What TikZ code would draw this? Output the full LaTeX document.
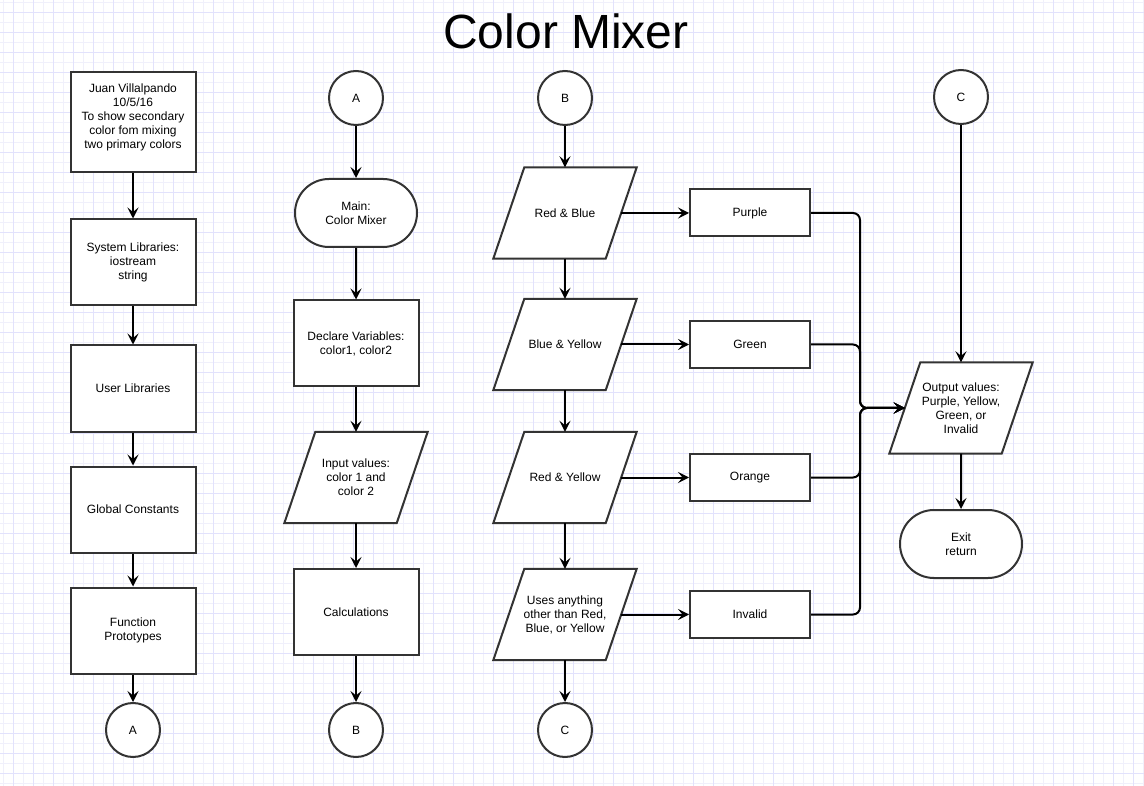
\documentclass[tikz,border=0pt]{standalone}
\usepackage{fontspec}
\setmainfont{Liberation Sans}
\usetikzlibrary{shapes.geometric,shapes.misc,arrows.meta}
\definecolor{gridc}{RGB}{240,240,251}
\definecolor{gridd}{RGB}{226,226,252}
\definecolor{edgec}{RGB}{51,51,51}
\pgfdeclarelayer{gridlayer}
\pgfdeclarelayer{bg}
\pgfsetlayers{gridlayer,bg,main}
\newcommand{\paradraw}[1]{%
  \draw[shapeline] ([xshift=31pt]#1.north west) -- (#1.north east) -- ([xshift=-31pt]#1.south east) -- (#1.south west) -- cycle;}
\begin{document}
\begin{tikzpicture}[x=1pt,y=-1pt,
 shapeline/.style={draw=edgec, line width=2pt, fill=white, line join=miter},
 base/.style={draw=edgec, line width=2pt, fill=white, font=\fontsize{12}{14}\selectfont, align=center, text=black, inner sep=2pt},
 proc/.style={base, rectangle, minimum width=125, minimum height=86},
 sbox/.style={base, rectangle, minimum width=120, minimum height=47},
 io/.style={rectangle, draw=none, fill=none, font=\fontsize{12}{14}\selectfont, align=center, text=black, inner sep=0pt, minimum width=143, minimum height=91},
 term/.style={base, rounded rectangle, minimum width=126, minimum height=68},
 conn/.style={base, circle, minimum size=54},
 arr/.style={line width=2pt, draw=black, -{Stealth[length=11pt,width=11pt,inset=4.5pt]}},
]
\useasboundingbox (0,0) rectangle (1144,786);
\begin{pgfonlayer}{gridlayer}
\fill[white] (0,0) rectangle (1144,786);
\begin{scope}[shift={(3,3)}]
\draw[gridc, line width=1pt] (-10,-10) grid[step=10pt] (1150,790);
\end{scope}
\begin{scope}[shift={(13,13)}]
\draw[gridd, line width=1pt] (-20,-20) grid[step=20pt] (1150,790);
\end{scope}
\end{pgfonlayer}

\node[font=\fontsize{48}{56}\selectfont] (title) at (566,31) {Color Mixer};

% column 1
\node[proc, minimum height=100] (hdr) at (133,122) {\raisebox{4pt}[\height][\depth]{\begin{tabular}{@{}c@{}}Juan Villalpando\\10/5/16\\To show secondary\\color fom mixing\\two primary colors\end{tabular}}};
\node[proc] (sys) at (133,262.5) {System Libraries:\\iostream\\string};
\node[proc] (usr) at (133,388.5) {User Libraries};
\node[proc] (glob) at (133,509.5) {Global Constants};
\node[proc] (func) at (133,630.5) {Function\\Prototypes};
\node[conn] (a1) at (133,730) {A};

% column 2
\node[conn] (a2) at (356,98) {A};
\node[term] (main) at (356,213) {Main:\\Color Mixer};
\node[proc] (decl) at (356,343.5) {Declare Variables:\\color1, color2};
\node[io] (inp) at (356,477.5) {Input values:\\color 1 and\\color 2};
\node[proc] (calc) at (356,612) {Calculations};
\node[conn] (b2) at (356,730) {B};

% column 3
\node[conn] (b3) at (565,98) {B};
\node[io] (rb) at (565,213) {Red \& Blue};
\node[io] (by) at (565,344.5) {Blue \& Yellow};
\node[io] (ry) at (565,477.5) {Red \& Yellow};
\node[io] (oth) at (565,614.5) {Uses anything\\other than Red,\\Blue, or Yellow};
\node[conn] (c3) at (565,730) {C};

% column 4
\node[sbox] (pur) at (750,213) {Purple};
\node[sbox] (grn) at (750,344.5) {Green};
\node[sbox] (org) at (750,477.5) {Orange};
\node[sbox] (inv) at (750,614.5) {Invalid};

% column 5
\node[conn] (c4) at (961,97) {C};
\node[io] (out) at (961,408) {Output values:\\Purple, Yellow,\\Green, or\\Invalid};
\node[term] (exit) at (961,544) {Exit\\return};
\coordinate (mx) at (860,408);

\begin{pgfonlayer}{bg}
\paradraw{inp}
\paradraw{rb}
\paradraw{by}
\paradraw{ry}
\paradraw{oth}
\paradraw{out}
\end{pgfonlayer}

% connectors
\draw[arr] (hdr) -- (sys);
\draw[arr] (sys) -- (usr);
\draw[arr] (usr) -- (glob);
\draw[arr] (glob) -- (func);
\draw[arr] (func) -- (a1);

\draw[arr] (a2) -- (main);
\draw[arr] (main) -- (decl);
\draw[arr] (decl) -- (inp.north);
\draw[arr] (inp.south) -- (calc);
\draw[arr] (calc) -- (b2);

\draw[arr] (b3) -- (rb.north);
\draw[arr] (rb.south) -- (by.north);
\draw[arr] (by.south) -- (ry.north);
\draw[arr] (ry.south) -- (oth.north);
\draw[arr] (oth.south) -- (c3);

\draw[arr] ([xshift=-15.5pt]rb.east) -- (pur);
\draw[arr] ([xshift=-15.5pt]by.east) -- (grn);
\draw[arr] ([xshift=-15.5pt]ry.east) -- (org);
\draw[arr] ([xshift=-15.5pt]oth.east) -- (inv);

\draw[arr, rounded corners=7pt] (pur) -| (mx) -- ([xshift=15.5pt]out.west);
\draw[arr, rounded corners=7pt] (grn) -| (mx) -- ([xshift=15.5pt]out.west);
\draw[arr, rounded corners=7pt] (org) -| (mx) -- ([xshift=15.5pt]out.west);
\draw[arr, rounded corners=7pt] (inv) -| (mx) -- ([xshift=15.5pt]out.west);

\draw[arr] (c4) -- (out.north);
\draw[arr] (out.south) -- (exit);
\end{tikzpicture}
\end{document}
